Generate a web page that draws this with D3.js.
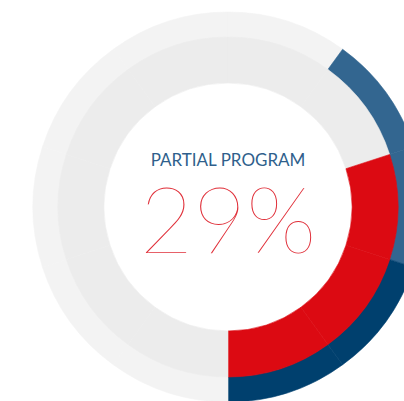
<!DOCTYPE html>
<html>
<head>
<meta charset="utf-8">
<script src="https://cdn.jsdelivr.net/npm/d3@7"></script>
<style>
  html, body { margin: 0; padding: 0; background: #fff; }
  svg { display: block; }
</style>
</head>
<body>
<svg id="chart" width="404" height="401"></svg>
<script>
// ten equal slices per ring, clockwise from 12 o'clock
const slices = d3.range(10);
const outerState = ["empty", "light", "light", "navy", "navy", "empty", "empty", "empty", "empty", "empty"];
const innerState = ["empty", "empty", "red", "red", "red", "empty", "empty", "empty", "empty", "empty"];
const title = "PARTIAL PROGRAM";
const percent = 29;

const width = 404, height = 401;
const cx = 228, cy = 207;

const outerColor = d3.scaleOrdinal()
  .domain(["empty", "light", "navy"])
  .range(["#f3f3f3", "#336690", "#00406e"]);
const innerColor = d3.scaleOrdinal()
  .domain(["empty", "red"])
  .range(["#ececec", "#dc0a12"]);

const svg = d3.select("#chart");
const g = svg.append("g").attr("transform", `translate(${cx},${cy})`);

const pie = d3.pie().value(1).sort(null);

const outerArc = d3.arc().innerRadius(169.5).outerRadius(195);
const innerArc = d3.arc().innerRadius(124).outerRadius(170);

// outer ring
g.append("g")
  .selectAll("path")
  .data(pie(slices))
  .join("path")
  .attr("d", outerArc)
  .attr("fill", (d, i) => outerColor(outerState[i]))
  .attr("stroke", (d, i) => outerColor(outerState[i]))
  .attr("stroke-width", 0.6);

// inner ring
g.append("g")
  .selectAll("path")
  .data(pie(slices))
  .join("path")
  .attr("d", innerArc)
  .attr("fill", (d, i) => innerColor(innerState[i]))
  .attr("stroke", (d, i) => innerColor(innerState[i]))
  .attr("stroke-width", 0.6);

// center labels
g.append("text")
  .attr("x", 0)
  .attr("y", -41)
  .attr("text-anchor", "middle")
  .attr("font-family", "Lato, 'Open Sans', sans-serif")
  .attr("font-size", 17)
  .attr("fill", "#2f5f8c")
  .text(title);

g.append("text")
  .attr("x", 0)
  .attr("y", 46)
  .attr("text-anchor", "middle")
  .attr("font-family", "Lato, 'DejaVu Sans', sans-serif")
  .attr("font-weight", 100)
  .attr("font-size", 92)
  .attr("fill", "#e0303a")
  .text(percent + "%");
</script>
</body>
</html>
